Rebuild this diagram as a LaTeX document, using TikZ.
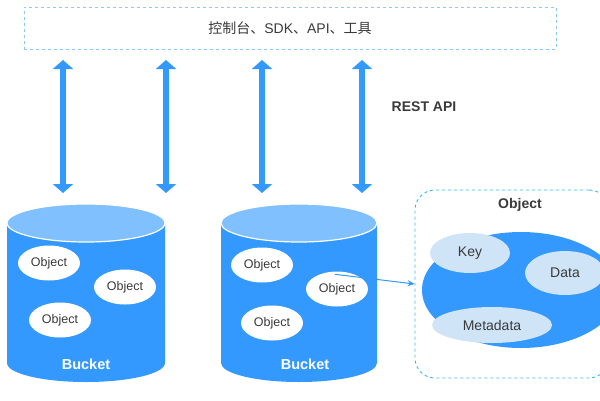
\documentclass[tikz,border=0pt]{standalone}
\usepackage{fontspec}
\setmainfont{Liberation Sans}
\newfontfamily\cjk{Noto Sans CJK SC}
\usetikzlibrary{positioning,shapes.geometric,arrows.meta}

\definecolor{bucketblue}{HTML}{3399FF}
\definecolor{bucketlight}{HTML}{80C0FF}
\definecolor{partfill}{HTML}{CFE4F7}
\definecolor{boxdash}{HTML}{8CC8F8}
\definecolor{objdash}{HTML}{30B8F0}
\definecolor{txtgray}{HTML}{3A3A3A}

\tikzset{
  api/.style={line width=6, color=bucketblue,
    {Triangle[width=20pt,length=9pt]}-{Triangle[width=20pt,length=9pt]}},
  obj/.style={ellipse, fill=white, minimum width=62, minimum height=35,
    inner sep=0pt, text=txtgray, font=\fontsize{12.5}{14}\selectfont},
  part/.style={ellipse, fill=partfill, inner sep=0pt, text=txtgray,
    font=\fontsize{14}{16}\selectfont},
  label/.style={text=txtgray, font=\bfseries\fontsize{14}{16}\selectfont},
  bucketlabel/.style={text=white, font=\bfseries\fontsize{14.5}{16}\selectfont},
  link/.style={bucketblue, line width=1, -{Stealth[length=7pt,width=6pt]}}
}

\begin{document}
\begin{tikzpicture}[x=1pt,y=-1pt]
  \useasboundingbox (0,0) rectangle (600,400);

  % client layer
  \node[draw=boxdash, dashed, line width=0.9, minimum width=532, minimum height=42,
        text=txtgray, font=\fontsize{14}{16}\selectfont] (console) at (290,28)
        {{\cjk 控制台、}SDK{\cjk 、}API{\cjk 、工具}};

  % REST API arrows
  \foreach \x [count=\i] in {63,166,262,362} {
    \coordinate (up\i) at (\x,60);
    \coordinate (dn\i) at (\x,193);
    \draw[api] (up\i) -- (dn\i);
  }
  \node[label] (rest) at (424,107) {REST API};

  % bucket 1
  \fill[bucketblue] (7,223) -- (7,363) arc[start angle=180,end angle=0,x radius=79,y radius=19]
    -- (165,223) -- cycle;
  \draw[white, line width=1.2, fill=bucketlight] (86,223) ellipse[x radius=79, y radius=19];
  \node[obj] (obj1) at (49,263) {Object};
  \node[obj] (obj2) at (125,287) {Object};
  \node[obj] (obj3) at (60,320) {Object};
  \node[bucketlabel] (bucket1) at (86,364) {Bucket};

  % bucket 2
  \fill[bucketblue] (221,223) -- (221,363) arc[start angle=180,end angle=0,x radius=78,y radius=19]
    -- (377,223) -- cycle;
  \draw[white, line width=1.2, fill=bucketlight] (299,223) ellipse[x radius=78, y radius=19];
  \node[obj] (obj4) at (262,265) {Object};
  \node[obj] (obj5) at (337,289) {Object};
  \node[obj] (obj6) at (272,323) {Object};
  \node[bucketlabel] (bucket2) at (305,364) {Bucket};

  % object detail
  \node[draw=objdash, dashed, line width=0.9, rounded corners=20,
        minimum width=194, minimum height=188] (objbox) at (512,284) {};
  \node[label] (objtitle) at (520,205) {Object};
  \fill[bucketblue] (521,290) ellipse[x radius=99, y radius=58];
  \node[part, minimum width=80, minimum height=40] (key) at (470,253) {Key};
  \node[part, minimum width=80, minimum height=44] (data) at (565,273) {Data};
  \node[part, minimum width=120, minimum height=36] (meta) at (492,325) {Metadata};

  \draw[link] ([xshift=-2pt,yshift=-3pt]obj5.north) -- (objbox.west);
\end{tikzpicture}
\end{document}
